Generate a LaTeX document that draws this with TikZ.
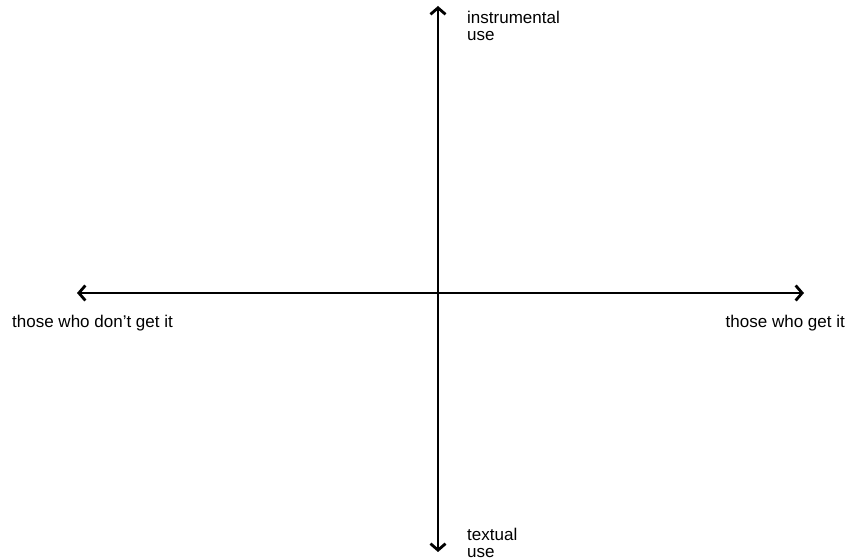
\documentclass[tikz,border=0pt]{standalone}
\usepackage{fontspec}
\setmainfont{Liberation Sans}
\usetikzlibrary{arrows.meta}
\tikzset{
  axis/.style={line width=1.8pt,{Straight Barb[length=6.5pt,width=15pt,line width=2.8pt]}-{Straight Barb[length=6.5pt,width=15pt,line width=2.8pt]}},
  lbl/.style={inner sep=0pt,font=\fontsize{17}{17}\selectfont,align=left}
}
\begin{document}
\begin{tikzpicture}[x=1pt,y=1pt]
            \useasboundingbox (0,0) rectangle (846,559);
            \coordinate (west) at (77,266);
            \coordinate (east) at (804,266);
            \coordinate (north) at (438,553);
            \coordinate (south) at (438,7);
            \draw[axis] (west) -- (east);
            \draw[axis] (south) -- (north);
            \node[lbl,anchor=north west] (instr) at (467,548) {instrumental\\use};
            \node[lbl,anchor=north west] (textual) at (467,31) {textual\\use};
            \node[lbl,anchor=west] (dont) at (12,236) {those who don't get it};
            \node[lbl,anchor=east] (get) at (845,236) {those who get it};
        \end{tikzpicture}
\end{document}
